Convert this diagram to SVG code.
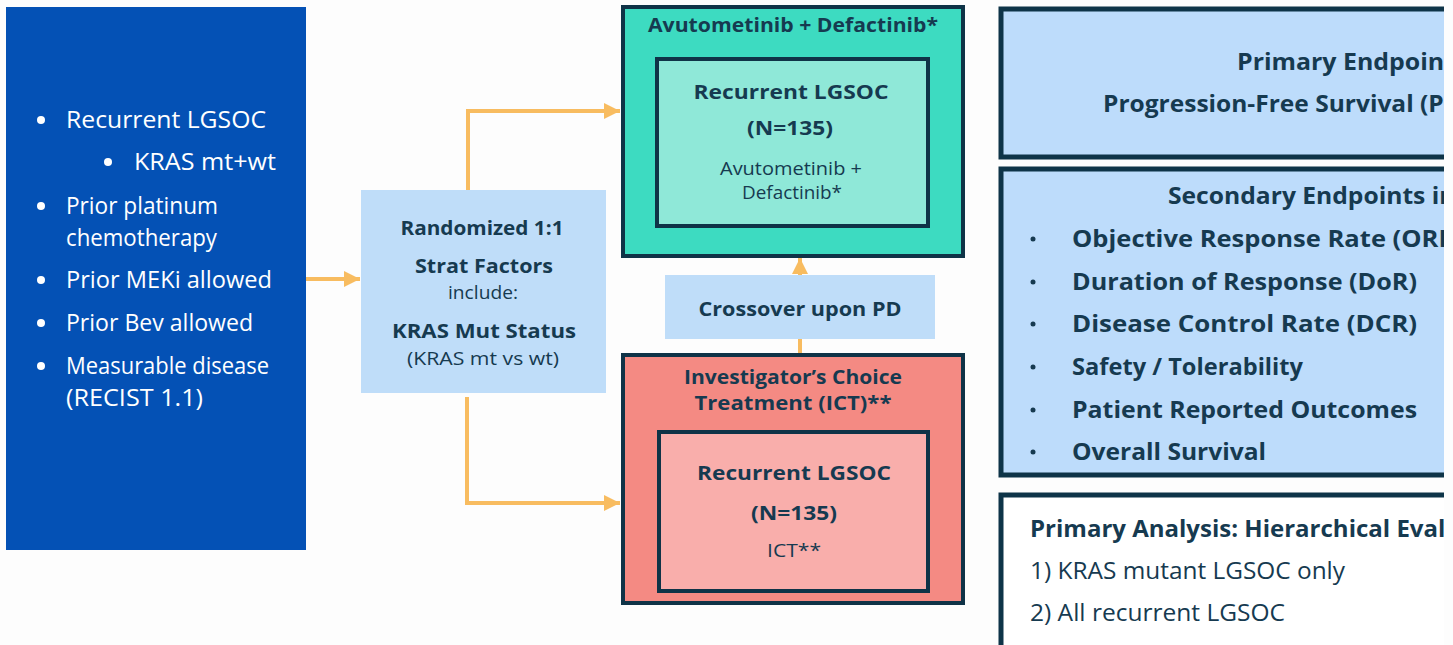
<svg xmlns="http://www.w3.org/2000/svg" width="1453" height="645" viewBox="0 0 1453 645">
<style>
text{font-family:"Open Sans",Lato,"Liberation Sans",sans-serif;fill:#163a50}
.w{fill:#ffffff;font-size:23px}
.b{font-weight:bold}
.c{text-anchor:middle}
.t19{font-size:19px}
.t20{font-size:20px}
.t23{font-size:23px}
.box{stroke:#0f3347;stroke-width:4}
.rb{fill:#bddcfb;stroke:#0e3448;stroke-width:5}
.con{fill:none;stroke:#f8bc60;stroke-width:4}
</style>
<defs>
<marker id="ah" viewBox="0 0 10 10" refX="10" refY="5" markerWidth="16" markerHeight="16" markerUnits="userSpaceOnUse" orient="auto">
<path d="M0,0 L10,5 L0,10 Z" fill="#f8bc60"/>
</marker>
<clipPath id="clipR"><rect x="0" y="0" width="1444" height="645"/></clipPath>
</defs>
<rect width="1453" height="645" fill="#fdfdfd"/>

<g id="connectors">
<path class="con" d="M306,279 H360" marker-end="url(#ah)"/>
<path class="con" d="M468,190 V111 H620" marker-end="url(#ah)"/>
<path class="con" d="M467,397 V503 H620" marker-end="url(#ah)"/>
<path class="con" d="M800,353 V339"/>
<path class="con" d="M800,275 V258" marker-end="url(#ah)"/>
</g>

<g id="eligibility">
<rect x="6" y="7" width="300" height="543" fill="#0451b5"/>
<circle cx="41" cy="120" r="4" fill="#fff"/>
<text x="66" y="128" class="w" textLength="200" lengthAdjust="spacingAndGlyphs">Recurrent LGSOC</text>
<circle cx="108" cy="162" r="4" fill="#fff"/>
<text x="134" y="170" class="w" textLength="142" lengthAdjust="spacingAndGlyphs">KRAS mt+wt</text>
<circle cx="41" cy="206" r="4" fill="#fff"/>
<text x="66" y="214" class="w" textLength="152" lengthAdjust="spacingAndGlyphs">Prior platinum</text>
<text x="66" y="246" class="w" textLength="151" lengthAdjust="spacingAndGlyphs">chemotherapy</text>
<circle cx="41" cy="280" r="4" fill="#fff"/>
<text x="66" y="288" class="w" textLength="206" lengthAdjust="spacingAndGlyphs">Prior MEKi allowed</text>
<circle cx="41" cy="323" r="4" fill="#fff"/>
<text x="66" y="331" class="w" textLength="187" lengthAdjust="spacingAndGlyphs">Prior Bev allowed</text>
<circle cx="41" cy="366" r="4" fill="#fff"/>
<text x="66" y="374" class="w" textLength="203" lengthAdjust="spacingAndGlyphs">Measurable disease</text>
<text x="66" y="406" class="w" textLength="137" lengthAdjust="spacingAndGlyphs">(RECIST 1.1)</text>
</g>

<g id="randomized">
<rect x="361" y="190" width="245" height="203" fill="#bfddf9"/>
<text x="482" y="235" class="b c t20" textLength="163" lengthAdjust="spacingAndGlyphs">Randomized 1:1</text>
<text x="484" y="273" class="b c t20" textLength="138" lengthAdjust="spacingAndGlyphs">Strat Factors</text>
<text x="483" y="299" class="c t19" textLength="70" lengthAdjust="spacingAndGlyphs">include:</text>
<text x="484" y="338" class="b c t20" textLength="184" lengthAdjust="spacingAndGlyphs">KRAS Mut Status</text>
<text x="483" y="365" class="c t19" textLength="152" lengthAdjust="spacingAndGlyphs">(KRAS mt vs wt)</text>
</g>

<g id="arm-avutometinib">
<rect x="623" y="7" width="340" height="249" fill="#3ddbc1" class="box"/>
<text x="793" y="32" class="b c t19" textLength="290" lengthAdjust="spacingAndGlyphs">Avutometinib + Defactinib*</text>
<rect x="657" y="59" width="271" height="167" fill="#8fe8d8" class="box"/>
<text x="791" y="99" class="b c t20" textLength="195" lengthAdjust="spacingAndGlyphs">Recurrent LGSOC</text>
<text x="790" y="135" class="b c t20" textLength="86" lengthAdjust="spacingAndGlyphs">(N=135)</text>
<text x="791" y="175" class="c t19" textLength="142" lengthAdjust="spacingAndGlyphs">Avutometinib +</text>
<text x="792" y="199" class="c t19" textLength="100" lengthAdjust="spacingAndGlyphs">Defactinib*</text>
</g>

<g id="crossover">
<rect x="665" y="275" width="270" height="64" fill="#bfddf9"/>
<text x="800" y="316" class="b c t20" textLength="203" lengthAdjust="spacingAndGlyphs">Crossover upon PD</text>
</g>

<g id="arm-ict">
<rect x="623" y="355" width="340" height="248" fill="#f48a83" class="box"/>
<text x="793" y="384" class="b c t19" textLength="218" lengthAdjust="spacingAndGlyphs">Investigator’s Choice</text>
<text x="793" y="410" class="b c t19" textLength="197" lengthAdjust="spacingAndGlyphs">Treatment (ICT)**</text>
<rect x="659" y="432" width="269" height="159" fill="#f9aeab" class="box"/>
<text x="794" y="480" class="b c t20" textLength="194" lengthAdjust="spacingAndGlyphs">Recurrent LGSOC</text>
<text x="794" y="520" class="b c t20" textLength="86" lengthAdjust="spacingAndGlyphs">(N=135)</text>
<text x="794" y="557" class="c t19" textLength="54" lengthAdjust="spacingAndGlyphs">ICT**</text>
</g>

<g clip-path="url(#clipR)">
<g id="primary-endpoint">
<rect x="1001" y="9" width="500" height="148" class="rb"/>
<text x="1237" y="70" class="b t23" textLength="218" lengthAdjust="spacingAndGlyphs">Primary Endpoint</text>
<text x="1103" y="112" class="b t23" textLength="376" lengthAdjust="spacingAndGlyphs">Progression-Free Survival (PFS)</text>
</g>
<g id="secondary-endpoints">
<rect x="1001" y="169" width="500" height="306" class="rb"/>
<text x="1168" y="204" class="b t23" textLength="354" lengthAdjust="spacingAndGlyphs">Secondary Endpoints include</text>
<circle cx="1033" cy="239" r="2.5" fill="#163a50"/>
<text x="1072" y="247" class="b t23" textLength="392" lengthAdjust="spacingAndGlyphs">Objective Response Rate (ORR)</text>
<circle cx="1033" cy="282" r="2.5" fill="#163a50"/>
<text x="1072" y="290" class="b t23" textLength="345" lengthAdjust="spacingAndGlyphs">Duration of Response (DoR)</text>
<circle cx="1033" cy="324" r="2.5" fill="#163a50"/>
<text x="1072" y="332" class="b t23" textLength="345" lengthAdjust="spacingAndGlyphs">Disease Control Rate (DCR)</text>
<circle cx="1033" cy="367" r="2.5" fill="#163a50"/>
<text x="1072" y="375" class="b t23" textLength="231" lengthAdjust="spacingAndGlyphs">Safety / Tolerability</text>
<circle cx="1033" cy="410" r="2.5" fill="#163a50"/>
<text x="1072" y="418" class="b t23" textLength="345" lengthAdjust="spacingAndGlyphs">Patient Reported Outcomes</text>
<circle cx="1033" cy="452" r="2.5" fill="#163a50"/>
<text x="1072" y="460" class="b t23" textLength="194" lengthAdjust="spacingAndGlyphs">Overall Survival</text>
</g>
<g id="primary-analysis">
<rect x="1001" y="495" width="500" height="200" fill="#ffffff" stroke="#0e3448" stroke-width="5"/>
<text x="1030" y="537" class="b t23" textLength="494" lengthAdjust="spacingAndGlyphs">Primary Analysis:  Hierarchical Evaluation</text>
<text x="1030" y="579" class="t23" textLength="315" lengthAdjust="spacingAndGlyphs">1) KRAS mutant LGSOC only</text>
<text x="1030" y="621" class="t23" textLength="255" lengthAdjust="spacingAndGlyphs">2) All recurrent LGSOC</text>
</g>
</g>
</svg>
